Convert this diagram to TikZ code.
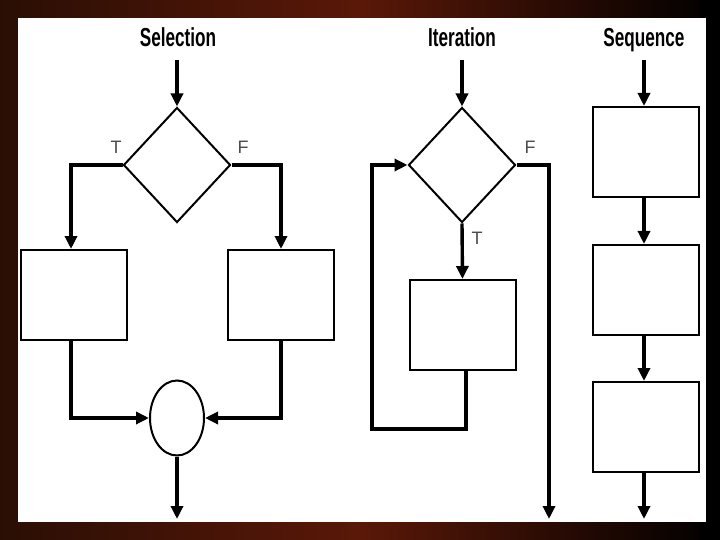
\documentclass[tikz,border=0pt]{standalone}
\usepackage{fontspec}
\setmainfont{Liberation Sans}
\newfontfamily\titlefont[FakeStretch=0.66]{Liberation Sans}
\usetikzlibrary{arrows.meta,shapes.geometric}
\definecolor{bgred}{HTML}{5A1808}
\definecolor{bgdark}{HTML}{2A0E04}
\tikzset{
  conn/.style={line width=3.4pt,-{Triangle[length=13pt,width=12pt]}},
  box/.style={draw,line width=2pt,fill=white,minimum width=106pt,minimum height=90pt,inner sep=0pt},
  dec/.style={draw,diamond,line width=2pt,fill=white,minimum width=107pt,minimum height=115pt,inner sep=0pt},
  title/.style={font=\titlefont\bfseries\fontsize{26}{26}\selectfont,anchor=base,inner sep=0pt},
  lab/.style={font=\fontsize{18}{18}\selectfont,text=black!70}
}
\begin{document}
\begin{tikzpicture}[x=1pt,y=-1pt]
\useasboundingbox (0,0) rectangle (720,540);
\shade[left color=bgdark,right color=bgred] (0,0) rectangle (360,540);
\shade[left color=bgred,right color=black] (360,0) rectangle (720,540);
\fill[black] (700,0) rectangle (720,540);
\fill[white] (18,18) rectangle (706,522);

% Selection
\node[title] (tsel) at (178,47) {Selection};
\coordinate (s0) at (177,60);
\node[dec] (d1) at (177,165) {};
\node[box] (bl) at (73.5,295) {};
\node[box] (br) at (281,295) {};
\node[draw,ellipse,line width=2pt,minimum width=54pt,minimum height=75pt,inner sep=0pt] (c1) at (177,418) {};
\coordinate (send) at (177,519);
\node[lab] (lt) at (116,147) {T};
\node[lab] (lf) at (243,147) {F};
\draw[conn] (s0) -- (d1.north);
\draw[conn] (d1.west) -| (bl.north -| 71,0);
\draw[conn] (d1.east) -| (br.north);
\draw[conn] (bl.south -| 71,0) |- (c1.west);
\draw[conn] (br.south) |- (c1.east);
\draw[conn] (c1.south) -- (send);

% Iteration
\node[title] (tit) at (462,47) {Iteration};
\coordinate (i0) at (462,60);
\node[dec] (d2) at (462,165) {};
\node[box] (bi) at (462.5,325) {};
\coordinate (lp1) at (466,429);
\coordinate (lp2) at (372,429);
\coordinate (iend) at (549,519);
\node[lab] (it) at (477,238) {T};
\node[lab] (if) at (530,147) {F};
\draw[conn] (i0) -- (d2.north);
\draw[conn] (d2.south) -- (bi.north);
\draw[conn] (bi.south -| lp1) -- (lp1) -- (lp2) |- (d2.west);
\draw[conn] (d2.east) -| (iend);

% Sequence
\node[title] (tseq) at (644,47) {Sequence};
\coordinate (q0) at (644,60);
\node[box] (q1) at (645.5,152) {};
\node[box] (q2) at (645.5,290) {};
\node[box] (q3) at (645.5,427) {};
\coordinate (qend) at (644,519);
\draw[conn] (q0) -- (q1.north -| q0);
\draw[conn] (q1.south -| q0) -- (q2.north -| q0);
\draw[conn] (q2.south -| q0) -- (q3.north -| q0);
\draw[conn] (q3.south -| q0) -- (qend);
\end{tikzpicture}
\end{document}
